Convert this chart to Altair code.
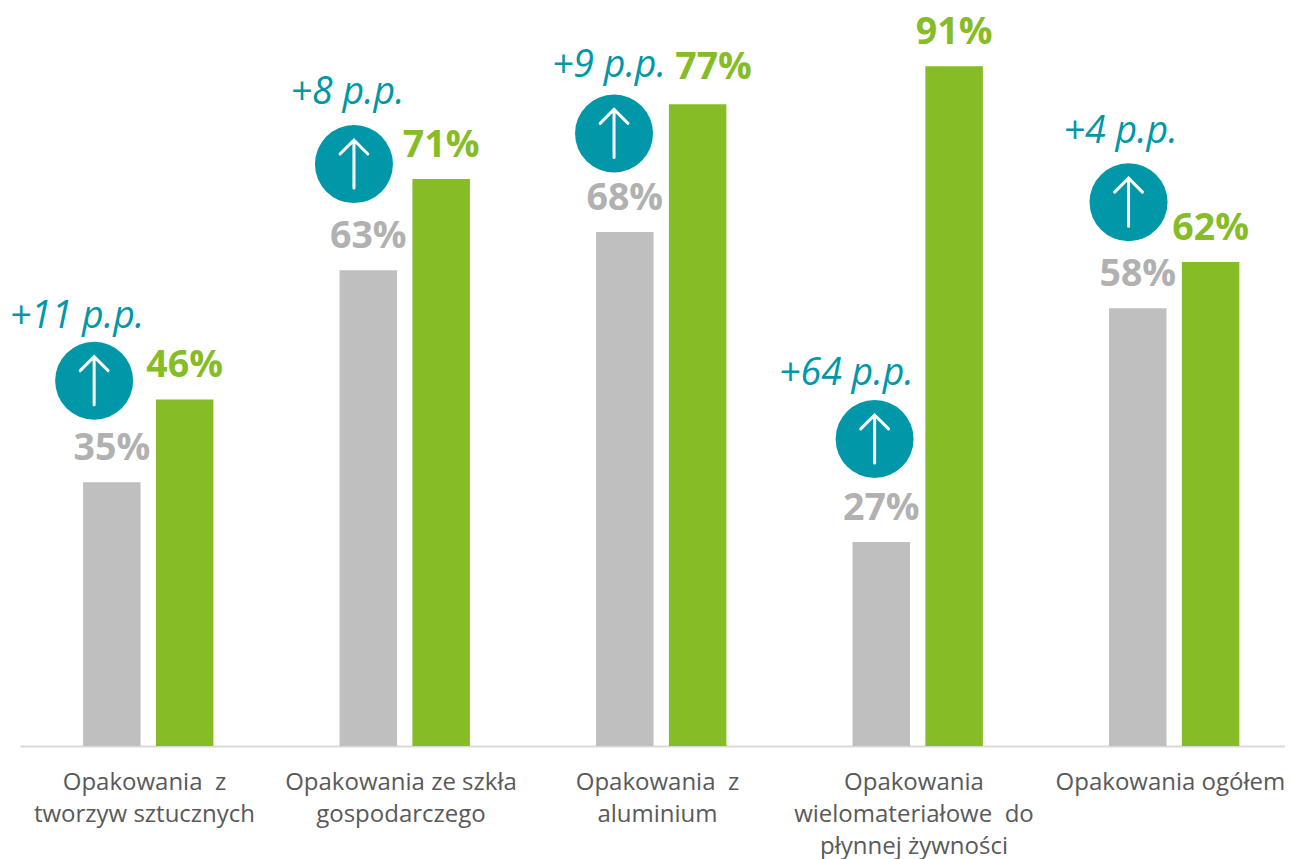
import json
import altair as alt
import pandas as pd

categories = [
    ["Opakowania\u00a0\u00a0z", "tworzyw sztucznych"],
    ["Opakowania ze szkła", "gospodarczego"],
    ["Opakowania\u00a0\u00a0z", "aluminium"],
    ["Opakowania", "wielomateriałowe\u00a0\u00a0do", "płynnej żywności"],
    ["Opakowania ogółem"],
]
gray_bars = [35.3, 63.7, 68.8, 27.3, 58.6]
green_bars = [46.4, 75.9, 85.9, 91.0, 64.8]
gray_labels = ["35%", "63%", "68%", "27%", "58%"]
green_labels = ["46%", "71%", "77%", "91%", "62%"]
green_label_shift_x = [0, 0, 0.062, 0, 0]
green_label_shift_y = [0, 0, 0.5, 0, 0]
deltas = ["+11 p.p.", "+8 p.p.", "+9 p.p.", "+64 p.p.", "+4 p.p."]
badge_x = [-0.21, -0.197, -0.183, -0.167, -0.177]
badge_y = [48.9, 77.9, 82.0, 41.1, 72.8]
delta_x = [-0.277, -0.222, -0.203, -0.277, -0.208]
delta_y = [55.95, 85.95, 89.55, 48.35, 80.75]

GRAY, GRAY_TEXT, GREEN, TEAL, TEXT = "#BFBFBF", "#B1B1B1", "#86BC25", "#0097A9", "#595959"
FONT = "Open Sans"

rows = range(len(categories))
bars = pd.DataFrame(
    [{"x": i - 0.141, "v": gray_bars[i], "s": "a"} for i in rows]
    + [{"x": i + 0.143, "v": green_bars[i], "s": "b"} for i in rows]
)
labels = pd.DataFrame(
    [{"x": i - 0.141, "v": gray_bars[i], "t": gray_labels[i], "s": "a"} for i in rows]
    + [
        {
            "x": i + 0.143 + green_label_shift_x[i],
            "v": green_bars[i] + green_label_shift_y[i],
            "t": green_labels[i],
            "s": "b",
        }
        for i in rows
    ]
)
notes = pd.DataFrame(
    [{"bx": i + badge_x[i], "by": badge_y[i], "dx": i + delta_x[i], "dy": delta_y[i], "d": deltas[i]} for i in rows]
)

xs = alt.Scale(domain=[-0.499, 4.433], nice=False, zero=False, padding=0)
ys = alt.Scale(domain=[0, 98.8], nice=False, padding=0)
bar_color = alt.Scale(domain=["a", "b"], range=[GRAY, GREEN])
text_color = alt.Scale(domain=["a", "b"], range=[GRAY_TEXT, GREEN])
label_expr = json.dumps(categories) + "[datum.value]"

x_axis = alt.Axis(
    values=list(rows), title=None, grid=False, ticks=False, labelExpr=label_expr,
    labelFont=FONT, labelFontSize=24, labelColor=TEXT, labelPadding=43, labelLineHeight=32,
    labelOverlap=False, labelFlush=False, labelOffset=-4, labelBaseline="alphabetic",
    labelLimit=400, domainColor="#D9D9D9", domainWidth=2,
)

bar = alt.Chart(bars).mark_bar(width=57.5).encode(
    x=alt.X("x:Q", scale=xs, axis=x_axis),
    y=alt.Y("v:Q", scale=ys, axis=None),
    color=alt.Color("s:N", scale=bar_color, legend=None),
)
value_text = alt.Chart(labels).mark_text(
    font=FONT, fontSize=37.5, fontWeight="bold", baseline="alphabetic", dy=-22
).encode(
    x=alt.X("x:Q", scale=xs),
    y=alt.Y("v:Q", scale=ys),
    text="t:N",
    color=alt.Color("s:N", scale=text_color, legend=None),
)
badge = alt.Chart(notes).mark_point(
    filled=True, shape="circle", size=6084, color=TEAL, opacity=1
).encode(x=alt.X("bx:Q", scale=xs), y=alt.Y("by:Q", scale=ys))
arrow = alt.Chart(notes).mark_point(
    shape="M0,-1 L0,1 M-0.58,-0.42 L0,-1 L0.58,-0.42",
    size=2304, filled=False, stroke="white", strokeWidth=3, opacity=1, strokeCap="round",
).encode(x=alt.X("bx:Q", scale=xs), y=alt.Y("by:Q", scale=ys))
delta_text = alt.Chart(notes).mark_text(
    font=FONT, fontSize=37.5, fontStyle="italic", color=TEAL, baseline="alphabetic"
).encode(x=alt.X("dx:Q", scale=xs), y=alt.Y("dy:Q", scale=ys), text="d:N")

chart = (
    alt.layer(bar, value_text, badge, arrow, delta_text)
    .resolve_scale(color="independent")
    .properties(
        width=1265, height=738,
        padding={"left": 12, "top": 0, "right": 0, "bottom": 113},
        autosize=alt.AutoSizeParams(type="none"),
    )
    .configure_view(stroke=None)
)
chart.save("out.html", embed_options={"renderer": "svg", "actions": False})
